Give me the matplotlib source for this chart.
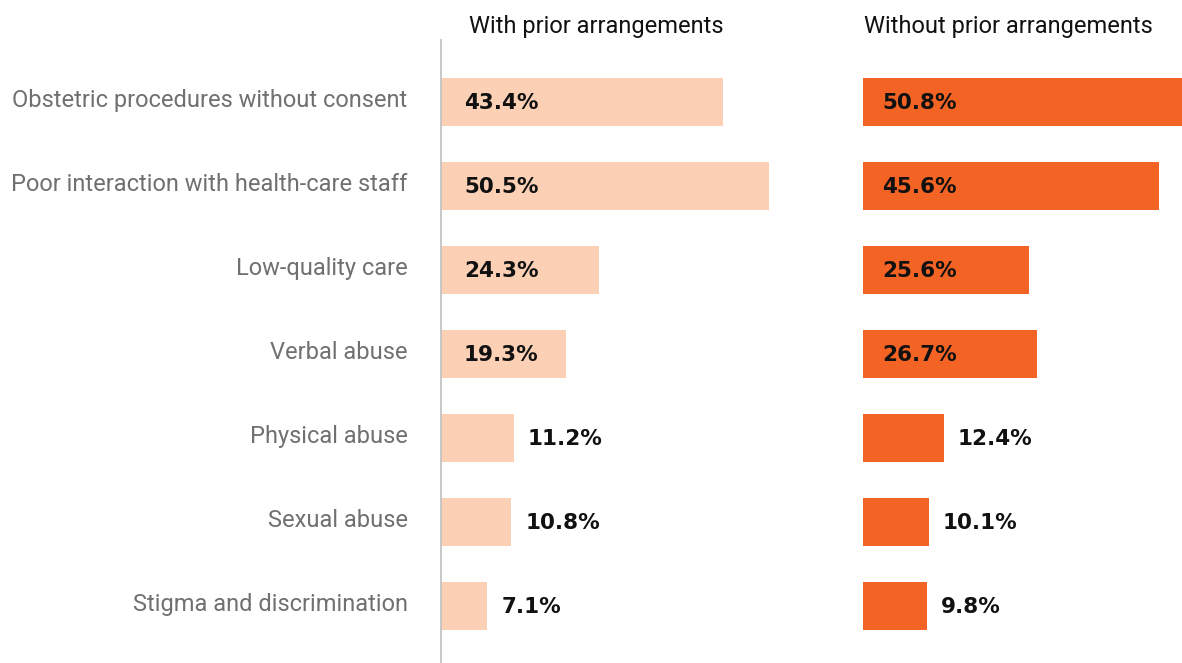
import matplotlib
matplotlib.use('Agg')
import matplotlib.pyplot as plt
from matplotlib.transforms import ScaledTranslation

categories = ['Obstetric procedures without consent',
              'Poor interaction with health-care staff',
              'Low-quality care',
              'Verbal abuse',
              'Physical abuse',
              'Sexual abuse',
              'Stigma and discrimination']
with_prior = [43.4, 50.5, 24.3, 19.3, 11.2, 10.8, 7.1]
without_prior = [50.8, 45.6, 25.6, 26.7, 12.4, 10.1, 9.8]
panel_titles = ['With prior arrangements', 'Without prior arrangements']

light = '#fcd0b4'
dark = '#f26324'
W, H = 1182, 663
ppu = 6.5  # pixels per percentage point

plt.rcParams['font.family'] = ['Roboto', 'DejaVu Sans']

fig = plt.figure(figsize=(W / 100, H / 100), dpi=100)
top_px = 40
row_px = 84
first_px = 102
ylo = (top_px - first_px) / row_px
yhi = (H - first_px) / row_px

axL = fig.add_axes([441 / W, 0, 55 * ppu / W, (H - top_px) / H])
axR = fig.add_axes([863 / W, 0, (W - 863) / W, (H - top_px) / H])
axL.set_xlim(0, 55)
axR.set_xlim(0, (W - 863) / ppu)

ypos = list(range(len(categories)))
for ax, vals, col, inpad in [(axL, with_prior, light, 23), (axR, without_prior, dark, 19)]:
    ax.barh(ypos, vals, height=0.58, color=col, linewidth=0)
    ax.set_ylim(yhi, ylo)
    for s in ['top', 'right', 'bottom', 'left']:
        ax.spines[s].set_visible(False)
    ax.set_xticks([])
    for y, v in zip(ypos, vals):
        lab = '%.1f%%' % v
        x0, dx = (0, inpad) if v >= 15 else (v, 14)
        ax.annotate(lab, xy=(x0, y), xytext=(dx, -1), textcoords='offset pixels',
                    ha='left', va='center', fontsize=15.5, fontweight='bold',
                    family='DejaVu Sans', color='#111111')

axL.spines['left'].set_visible(True)
axL.spines['left'].set_color('#c4c4c4')
axL.spines['left'].set_linewidth(1.3)
axL.set_yticks(ypos)
axL.set_yticklabels(categories, fontsize=17, color='#707070')
axL.tick_params(axis='y', length=0, pad=24)
# nudge the category names up a little
for t in axL.get_yticklabels():
    t.set_transform(t.get_transform() + ScaledTranslation(0, 4 / 100, fig.dpi_scale_trans))
axR.set_yticks([])

fig.text(596 / W, 1 - 26 / H, panel_titles[0], ha='center', va='center', fontsize=17, color='#111111')
fig.text(1008 / W, 1 - 26 / H, panel_titles[1], ha='center', va='center', fontsize=17, color='#111111')

fig.savefig('out.png', dpi=100)
